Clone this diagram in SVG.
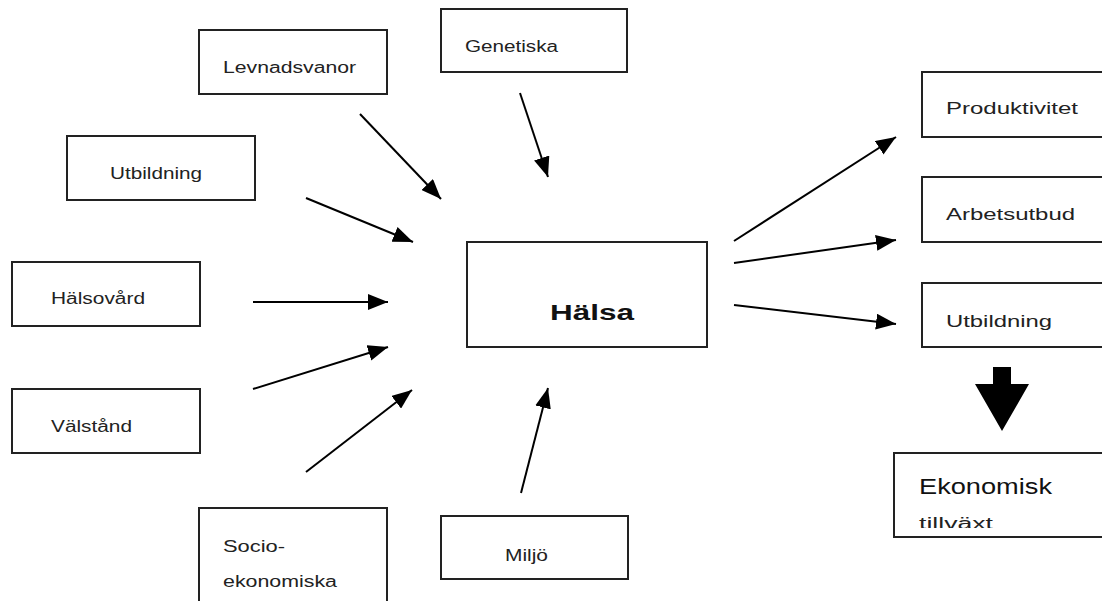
<svg xmlns="http://www.w3.org/2000/svg" width="1102" height="601" viewBox="0 0 1102 601">
<style>
.box{fill:#fff;stroke:#222;stroke-width:2}
.t{font-family:"Liberation Sans",Arial,sans-serif;font-size:16px;fill:#222}
.big{font-family:"Liberation Sans",Arial,sans-serif;font-size:22px;fill:#111}
.conn line{stroke:#000;stroke-width:2;marker-end:url(#ah)}
</style>
<defs>
<marker id="ah" markerUnits="userSpaceOnUse" markerWidth="22" markerHeight="16" refX="20" refY="8" orient="auto">
<path d="M0,0 L20,8 L0,16 Z" fill="#000"/>
</marker>
<clipPath id="ekclip"><rect x="894" y="453" width="208" height="75"/></clipPath>
</defs>
<rect width="1102" height="601" fill="#fff"/>
<g id="levnadsvanor"><rect class="box" x="199" y="30" width="188" height="64"/><text class="t" x="223" y="73" textLength="133" lengthAdjust="spacingAndGlyphs">Levnadsvanor</text></g>
<g id="genetiska"><rect class="box" x="441" y="9" width="186" height="63"/><text class="t" x="465" y="52" textLength="93" lengthAdjust="spacingAndGlyphs">Genetiska</text></g>
<g id="utbildning-in"><rect class="box" x="67" y="136" width="188" height="64"/><text class="t" x="110" y="179" textLength="92" lengthAdjust="spacingAndGlyphs">Utbildning</text></g>
<g id="halsovard"><rect class="box" x="12" y="262" width="188" height="64"/><text class="t" x="51" y="304" textLength="94" lengthAdjust="spacingAndGlyphs">Hälsovård</text></g>
<g id="valstand"><rect class="box" x="12" y="389" width="188" height="64"/><text class="t" x="51" y="432" textLength="81" lengthAdjust="spacingAndGlyphs">Välstånd</text></g>
<g id="socioekonomiska"><rect class="box" x="199" y="508" width="188" height="100"/><text class="t" x="223" y="552" textLength="62" lengthAdjust="spacingAndGlyphs">Socio-</text><text class="t" x="223" y="587" textLength="114" lengthAdjust="spacingAndGlyphs">ekonomiska</text></g>
<g id="miljo"><rect class="box" x="441" y="516" width="187" height="63"/><text class="t" x="505" y="561" textLength="43" lengthAdjust="spacingAndGlyphs">Miljö</text></g>
<g id="halsa"><rect class="box" x="467" y="242" width="240" height="105"/><text class="big" x="550" y="320" font-weight="bold" textLength="84" lengthAdjust="spacingAndGlyphs">Hälsa</text></g>
<g id="produktivitet"><rect class="box" x="922" y="72" width="200" height="65"/><text class="t" x="946" y="114" textLength="132" lengthAdjust="spacingAndGlyphs">Produktivitet</text></g>
<g id="arbetsutbud"><rect class="box" x="922" y="177" width="200" height="65"/><text class="t" x="946" y="220" textLength="129" lengthAdjust="spacingAndGlyphs">Arbetsutbud</text></g>
<g id="utbildning-out"><rect class="box" x="922" y="283" width="200" height="64"/><text class="t" x="946" y="327" textLength="106" lengthAdjust="spacingAndGlyphs">Utbildning</text></g>
<g id="ekonomisk"><rect class="box" x="894" y="453" width="220" height="84"/><text class="big" x="919" y="494" font-size="23" textLength="133" lengthAdjust="spacingAndGlyphs">Ekonomisk</text><text class="t" x="919" y="529" font-size="17" textLength="74" lengthAdjust="spacingAndGlyphs" clip-path="url(#ekclip)">tillväxt</text></g>
<g id="connectors" class="conn">
<line x1="360" y1="114" x2="441" y2="199"/>
<line x1="520" y1="93" x2="548" y2="177"/>
<line x1="306" y1="198" x2="413" y2="242"/>
<line x1="253" y1="302" x2="388" y2="302"/>
<line x1="253" y1="389" x2="388" y2="347"/>
<line x1="306" y1="472" x2="412" y2="390"/>
<line x1="521" y1="493" x2="548" y2="388"/>
<line x1="734" y1="241" x2="896" y2="137"/>
<line x1="734" y1="263" x2="896" y2="240"/>
<line x1="734" y1="305" x2="896" y2="324"/>
<path d="M993,367 H1011 V384 H1029 L1002,431 L975,384 H993 Z" fill="#000" stroke="none"/>
</g>
</svg>
